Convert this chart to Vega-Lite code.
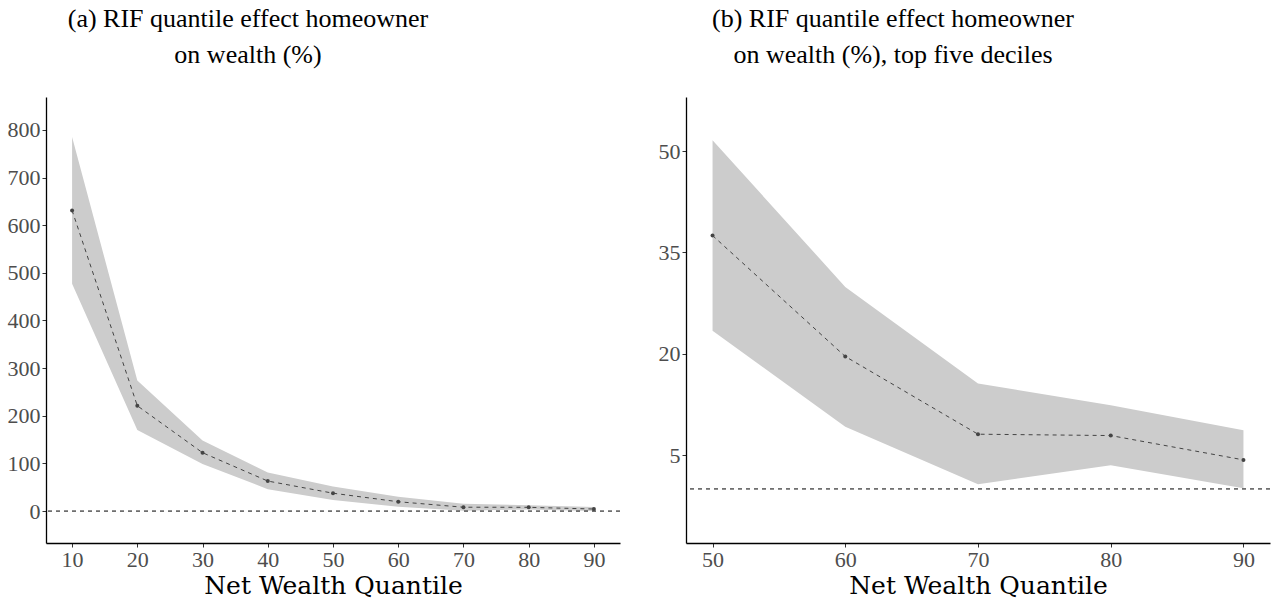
{
  "$schema": "https://vega.github.io/schema/vega-lite/v6.json",
  "background": "white",
  "padding": {"left": 7, "top": 6, "right": 10, "bottom": 0},
  "spacing": 37,
  "config": {
    "font": "Liberation Serif",
    "view": {"stroke": null},
    "axis": {
      "grid": false,
      "domainColor": "#000000",
      "domainWidth": 1.3,
      "tickColor": "#333333",
      "tickSize": 4,
      "tickWidth": 1,
      "labelColor": "#4d4d4d",
      "labelFont": "Liberation Serif",
      "labelFontSize": 22,
      "labelPadding": 2,
      "titleFont": "DejaVu Serif",
      "titleFontSize": 25,
      "titleFontWeight": "normal",
      "titleColor": "#000000",
      "titlePadding": 3
    },
    "title": {
      "font": "Liberation Serif",
      "fontSize": 26,
      "fontWeight": "normal",
      "color": "#000000",
      "lineHeight": 36,
      "offset": 29,
      "dx": -85
    }
  },
  "datasets": {
    "a": [
      {"q": 10, "est": 631, "lo": 477, "hi": 785},
      {"q": 20, "est": 221, "lo": 170, "hi": 274},
      {"q": 30, "est": 122.5, "lo": 99, "hi": 148},
      {"q": 40, "est": 63, "lo": 46, "hi": 81},
      {"q": 50, "est": 37.5, "lo": 23.4, "hi": 51.6},
      {"q": 60, "est": 19.6, "lo": 9.2, "hi": 29.9},
      {"q": 70, "est": 8.1, "lo": 0.7, "hi": 15.6},
      {"q": 80, "est": 7.9, "lo": 3.5, "hi": 12.4},
      {"q": 90, "est": 4.3, "lo": 0.1, "hi": 8.7}
    ],
    "b": [
      {"q": 50, "est": 37.5, "lo": 23.4, "hi": 51.6},
      {"q": 60, "est": 19.6, "lo": 9.2, "hi": 29.9},
      {"q": 70, "est": 8.1, "lo": 0.7, "hi": 15.6},
      {"q": 80, "est": 7.9, "lo": 3.5, "hi": 12.4},
      {"q": 90, "est": 4.3, "lo": 0.1, "hi": 8.7}
    ],
    "zero": [{"y": 0}]
  },
  "hconcat": [
    {
      "width": 574,
      "height": 446,
      "title": {"text": ["(a) RIF quantile effect homeowner", "on wealth (%)"]},
      "layer": [
        {
          "data": {"name": "a"},
          "mark": {"type": "area", "color": "#cccccc", "opacity": 1},
          "encoding": {
            "x": {"field": "q", "type": "quantitative", "scale": {"domain": [6, 94], "nice": false, "zero": false}, "axis": {"values": [10, 20, 30, 40, 50, 60, 70, 80, 90], "title": "Net Wealth Quantile"}},
            "y": {"field": "lo", "type": "quantitative", "scale": {"domain": [-67, 869], "nice": false, "zero": false}, "axis": {"values": [0, 100, 200, 300, 400, 500, 600, 700, 800], "title": null}},
            "y2": {"field": "hi"}
          }
        },
        {
          "data": {"name": "zero"},
          "mark": {"type": "rule", "color": "#000000", "strokeDash": [4, 4], "strokeWidth": 1},
          "encoding": {"y": {"field": "y", "type": "quantitative"}}
        },
        {
          "data": {"name": "a"},
          "mark": {"type": "line", "color": "#444444", "strokeDash": [4, 4], "strokeWidth": 1},
          "encoding": {
            "x": {"field": "q", "type": "quantitative"},
            "y": {"field": "est", "type": "quantitative"}
          }
        },
        {
          "data": {"name": "a"},
          "mark": {"type": "point", "filled": true, "color": "#444444", "size": 16, "opacity": 1},
          "encoding": {
            "x": {"field": "q", "type": "quantitative"},
            "y": {"field": "est", "type": "quantitative"}
          }
        }
      ]
    },
    {
      "width": 584,
      "height": 446,
      "title": {"text": ["(b) RIF quantile effect homeowner", "on wealth (%), top five deciles"]},
      "layer": [
        {
          "data": {"name": "b"},
          "mark": {"type": "area", "color": "#cccccc", "opacity": 1},
          "encoding": {
            "x": {"field": "q", "type": "quantitative", "scale": {"domain": [48, 92], "nice": false, "zero": false}, "axis": {"values": [50, 60, 70, 80, 90], "title": "Net Wealth Quantile"}},
            "y": {"field": "lo", "type": "quantitative", "scale": {"domain": [-8, 58], "nice": false, "zero": false}, "axis": {"values": [5, 20, 35, 50], "title": null}},
            "y2": {"field": "hi"}
          }
        },
        {
          "data": {"name": "zero"},
          "mark": {"type": "rule", "color": "#000000", "strokeDash": [4, 4], "strokeWidth": 1},
          "encoding": {"y": {"field": "y", "type": "quantitative"}}
        },
        {
          "data": {"name": "b"},
          "mark": {"type": "line", "color": "#444444", "strokeDash": [4, 4], "strokeWidth": 1},
          "encoding": {
            "x": {"field": "q", "type": "quantitative"},
            "y": {"field": "est", "type": "quantitative"}
          }
        },
        {
          "data": {"name": "b"},
          "mark": {"type": "point", "filled": true, "color": "#444444", "size": 16, "opacity": 1},
          "encoding": {
            "x": {"field": "q", "type": "quantitative"},
            "y": {"field": "est", "type": "quantitative"}
          }
        }
      ]
    }
  ]
}
